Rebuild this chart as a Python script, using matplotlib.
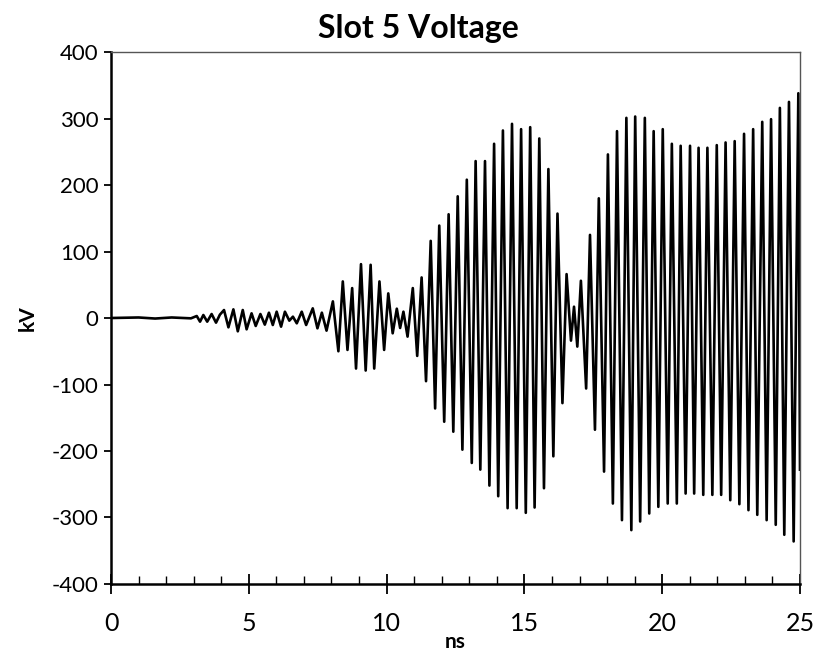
import matplotlib.pyplot as plt
import numpy as np
from matplotlib.ticker import MultipleLocator

plt.rcParams['font.family'] = ['Lato', 'DejaVu Sans']
plt.rcParams['axes.unicode_minus'] = False

# Extrema of the waveform (ns, kV)
t_ns = [0.0, 1.0, 1.6, 2.2, 2.9,
        3.11, 3.23, 3.35, 3.49, 3.65, 3.81, 3.95,
        4.10, 4.26, 4.44, 4.60, 4.78, 4.92,
        5.10, 5.25, 5.42, 5.58, 5.73, 5.87,
        6.01, 6.17, 6.31, 6.47, 6.60, 6.74, 6.92,
        7.08, 7.32, 7.49, 7.65, 7.82,
        8.05, 8.25, 8.41, 8.58, 8.75, 8.89,
        9.07, 9.24, 9.42, 9.55, 9.74, 9.91,
        10.06, 10.22, 10.37, 10.49, 10.61, 10.76, 10.95,
        11.11, 11.27, 11.43, 11.60, 11.76, 11.91,
        12.09, 12.25, 12.42, 12.58, 12.75, 12.91,
        13.09, 13.23, 13.40, 13.57, 13.73, 13.90,
        14.05, 14.22, 14.39, 14.55, 14.72, 14.88,
        15.05, 15.21, 15.37, 15.54, 15.71, 15.87,
        16.05, 16.20, 16.38, 16.53, 16.69, 16.80, 16.92,
        17.05, 17.24, 17.38, 17.56, 17.70, 17.89,
        18.03, 18.21, 18.36, 18.54, 18.70, 18.88,
        19.02, 19.20, 19.37, 19.53, 19.69, 19.86,
        20.02, 20.20, 20.35, 20.53, 20.67, 20.85,
        21.01, 21.16, 21.32, 21.49, 21.64, 21.82, 21.98,
        22.14, 22.30, 22.47, 22.63, 22.80, 22.97,
        23.13, 23.30, 23.45, 23.63, 23.79, 23.95,
        24.12, 24.27, 24.43, 24.60, 24.77, 24.94, 25.0]

kv = [0, 0.8, -0.8, 0.8, -0.5,
      3, -5.5, 4.5, -5.5, 6, -7, 5,
      12, -14, 13, -20, 12, -17,
      7, -12, 6, -10, 8, -10.5,
      9.5, -13, 9.5, -4, 2, -8, 9.5,
      -10.5, 14.5, -15.5, 8, -19,
      25, -50, 55, -48, 45, -76,
      81, -79, 80, -76, 55, -48,
      37, -23, 14, -15, 9.5, -28, 45,
      -57, 61, -95, 116, -136, 139,
      -156, 156, -171, 183, -198, 208,
      -218, 236, -228, 236, -252, 262,
      -268, 282, -286, 292, -286, 284,
      -293, 287, -285, 270, -256, 224,
      -208, 157, -128, 66, -34, 17, -43,
      56, -106, 125, -168, 180, -231,
      246, -279, 281, -304, 301, -319,
      303, -306, 301, -294, 281, -284,
      284, -279, 262, -279, 259, -264,
      259, -264, 256, -266, 256, -266, 260,
      -266, 264, -274, 266, -280, 277,
      -289, 284, -296, 295, -304, 299,
      -311, 316, -326, 325, -336, 338, -228]

fig = plt.figure(figsize=(8.2, 6.61), dpi=100)
ax = fig.add_axes([0.1354, 0.1165, 0.8402, 0.8048])

ax.plot(t_ns, kv, color='black', linewidth=1.9, solid_joinstyle='round')

ax.set_xlim(0, 25)
ax.set_ylim(-400, 400)
ax.xaxis.set_major_locator(MultipleLocator(5))
ax.xaxis.set_minor_locator(MultipleLocator(1))
ax.yaxis.set_major_locator(MultipleLocator(100))

ax.tick_params(axis='x', which='major', direction='inout', length=14, width=1.3,
               labelsize=18, pad=13)
ax.tick_params(axis='x', which='minor', direction='in', length=6, width=1)
ax.tick_params(axis='y', which='major', direction='out', length=5, width=1.3,
               labelsize=16, pad=4)

for side in ['left', 'bottom']:
    ax.spines[side].set_linewidth(1.8)
for side in ['top', 'right']:
    ax.spines[side].set_linewidth(1.0)
    ax.spines[side].set_color('#555555')

fig.text(0.51, 0.957, 'Slot 5 Voltage', fontsize=23, fontweight='bold',
         ha='center', va='center')
ax.set_xlabel('ns', fontsize=15, fontweight='bold', labelpad=-2)
ax.set_ylabel('kV', fontsize=15, fontweight='bold', labelpad=10)

fig.savefig('out.png', dpi=100)
